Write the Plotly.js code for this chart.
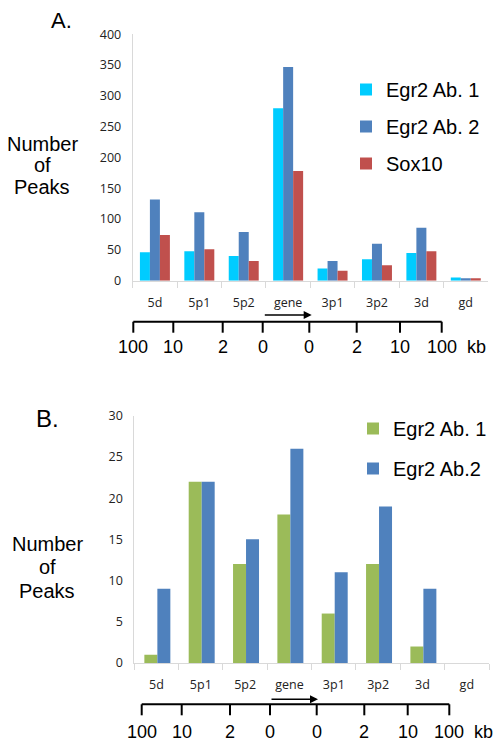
<!DOCTYPE html>
<html><head><meta charset="utf-8">
<script src="https://cdn.plot.ly/plotly-3.0.1.min.js"></script>
<style>html,body{margin:0;padding:0;background:#fff}#chart{width:503px;height:747px}</style>
</head><body><div id="chart"></div>
<script>
// ---- data ----
const categories = ["5d","5p1","5p2","gene","3p1","3p2","3d","gd"];
const seriesA = ["Egr2 Ab. 1","Egr2 Ab. 2","Sox10"];
const egr2Ab1A = [46, 48, 40, 280, 20, 35, 45, 5];
const egr2Ab2A = [132, 111, 79, 347, 32, 60, 86, 4];
const sox10A   = [74, 51, 32, 178, 16, 25, 48, 4];
const seriesB = ["Egr2 Ab. 1","Egr2 Ab.2"];
const egr2Ab1B = [1, 22, 12, 18, 6, 12, 2, 0];
const egr2Ab2B = [9, 22, 15, 26, 11, 19, 9, 0];
const kbLabels = ["100","10","2","0","0","2","10","100"];
const kbUnit = "kb";

// ---- geometry helpers (pixels -> paper) ----
const W = 503, H = 747;
const px = x => x / W;
const py = y => 1 - y / H;

const colA = ["#00ccff","#4f81bd","#c0504d"];
const colB = ["#9bbb59","#4f81bd"];

const wA = 0.225, wB = 0.293;
const traces = [
  {type:"bar", name:seriesA[0], x:categories, y:egr2Ab1A, marker:{color:colA[0]}, width:wA, offset:-1.5*wA, xaxis:"x", yaxis:"y", legend:"legend", legendgroup:"a1"},
  {type:"bar", name:seriesA[1], x:categories, y:egr2Ab2A, marker:{color:colA[1]}, width:wA, offset:-0.5*wA, xaxis:"x", yaxis:"y", legend:"legend", legendgroup:"a2"},
  {type:"bar", name:seriesA[2], x:categories, y:sox10A, marker:{color:colA[2]}, width:wA, offset:0.5*wA, xaxis:"x", yaxis:"y", legend:"legend", legendgroup:"a3"},
  {type:"bar", name:seriesB[0], x:categories, y:egr2Ab1B, marker:{color:colB[0]}, width:wB, offset:-wB+0.02, xaxis:"x2", yaxis:"y2", legend:"legend2", legendgroup:"b1"},
  {type:"bar", name:seriesB[1], x:categories, y:egr2Ab2B, marker:{color:colB[1]}, width:wB, offset:0.02, xaxis:"x2", yaxis:"y2", legend:"legend2", legendgroup:"b2"}
];

const tickFont = {family:"Open Sans, sans-serif", size:12.5, color:"#222"};
const axisX = (dom, anchor) => ({
  domain: dom, anchor: anchor, type:"category", range:[-0.5,7.5],
  showline:true, linecolor:"#d9d9d9", linewidth:1,
  ticks:"outside", tickson:"boundaries", ticklen:6, tickcolor:"#d9d9d9",
  showgrid:false, tickfont:tickFont, ticklabelstandoff:10, fixedrange:true
});
const axisY = (dom, anchor, range, dtick) => ({
  domain: dom, anchor: anchor, range: range, dtick: dtick,
  showline:true, linecolor:"#d9d9d9", linewidth:1, ticks:"",
  showgrid:false, zeroline:false, tickfont:tickFont, ticklabelstandoff:8, fixedrange:true
});

const shapes = [], annotations = [];
const big = {family:"Liberation Sans, Arial, sans-serif", size:20, color:"#000"};

function scale(lineY, tickXs, labelY, kbX, arrowX0, arrowX1, arrowY) {
  shapes.push({type:"line", xref:"paper", yref:"paper", x0:px(tickXs[0]), x1:px(tickXs[tickXs.length-1]), y0:py(lineY), y1:py(lineY), line:{color:"#000", width:2}});
  tickXs.forEach((tx,i) => {
    shapes.push({type:"line", xref:"paper", yref:"paper", x0:px(tx), x1:px(tx), y0:py(lineY), y1:py(lineY+11), line:{color:"#000", width:2}});
    annotations.push({xref:"paper", yref:"paper", x:px(tx), y:py(labelY), text:kbLabels[i], showarrow:false, xanchor:"center", yanchor:"middle", font:{family:"Liberation Sans, Arial, sans-serif", size:18, color:"#000"}});
  });
  annotations.push({xref:"paper", yref:"paper", x:px(kbX), y:py(labelY), text:kbUnit, showarrow:false, xanchor:"center", yanchor:"middle", font:{family:"Liberation Sans, Arial, sans-serif", size:18, color:"#000"}});
  annotations.push({xref:"paper", yref:"paper", axref:"pixel", ayref:"pixel", x:px(arrowX1), y:py(arrowY), ax:-(arrowX1-arrowX0), ay:0, text:"", showarrow:true, arrowhead:2, arrowsize:1, arrowwidth:1.6, arrowcolor:"#000", standoff:0});
}
scale(321.7, [133.3,173.3,222.7,262.7,309.3,356.7,400,441.7], 346.7, 476.7, 263.3, 311.7, 315);
scale(704.3, [141.7,181.7,230,270,316.7,364.3,407.7,449.3], 731.7, 483.3, 270, 318, 699.3);

function ylab(x, ys) {
  ["Number","of","Peaks"].forEach((t,i) => annotations.push({xref:"paper", yref:"paper", x:px(x), y:py(ys[i]), text:t, showarrow:false, xanchor:"center", yanchor:"middle", font:big}));
}
ylab(42, [144,165,187]);
ylab(47, [544,567,591]);
annotations.push({xref:"paper", yref:"paper", x:px(61), y:py(20), text:"A.", showarrow:false, xanchor:"center", yanchor:"middle", font:{family:"Liberation Sans, Arial, sans-serif", size:22, color:"#000"}});
annotations.push({xref:"paper", yref:"paper", x:px(47), y:py(418), text:"B.", showarrow:false, xanchor:"center", yanchor:"middle", font:{family:"Liberation Sans, Arial, sans-serif", size:24, color:"#000"}});

const layout = {
  width:W, height:H, margin:{l:0,r:0,t:0,b:0},
  paper_bgcolor:"#fff", plot_bgcolor:"#fff",
  barmode:"overlay", showlegend:true,
  xaxis: axisX([px(132.7), px(488)], "y"),
  yaxis: axisY([py(280.7), py(34.3)], "x", [0,400], 50),
  xaxis2: axisX([px(134.3), px(489)], "y2"),
  yaxis2: axisY([py(663), py(415.7)], "x2", [0,30], 5),
  legend: {x:px(346), y:py(70), xanchor:"left", yanchor:"top", font:big, bgcolor:"rgba(0,0,0,0)", tracegroupgap:8, itemclick:false},
  legend2: {x:px(353), y:py(409), xanchor:"left", yanchor:"top", font:big, bgcolor:"rgba(0,0,0,0)", tracegroupgap:11, itemclick:false},
  shapes: shapes, annotations: annotations
};
Plotly.newPlot("chart", traces, layout, {displayModeBar:false, staticPlot:true});
</script></body></html>
